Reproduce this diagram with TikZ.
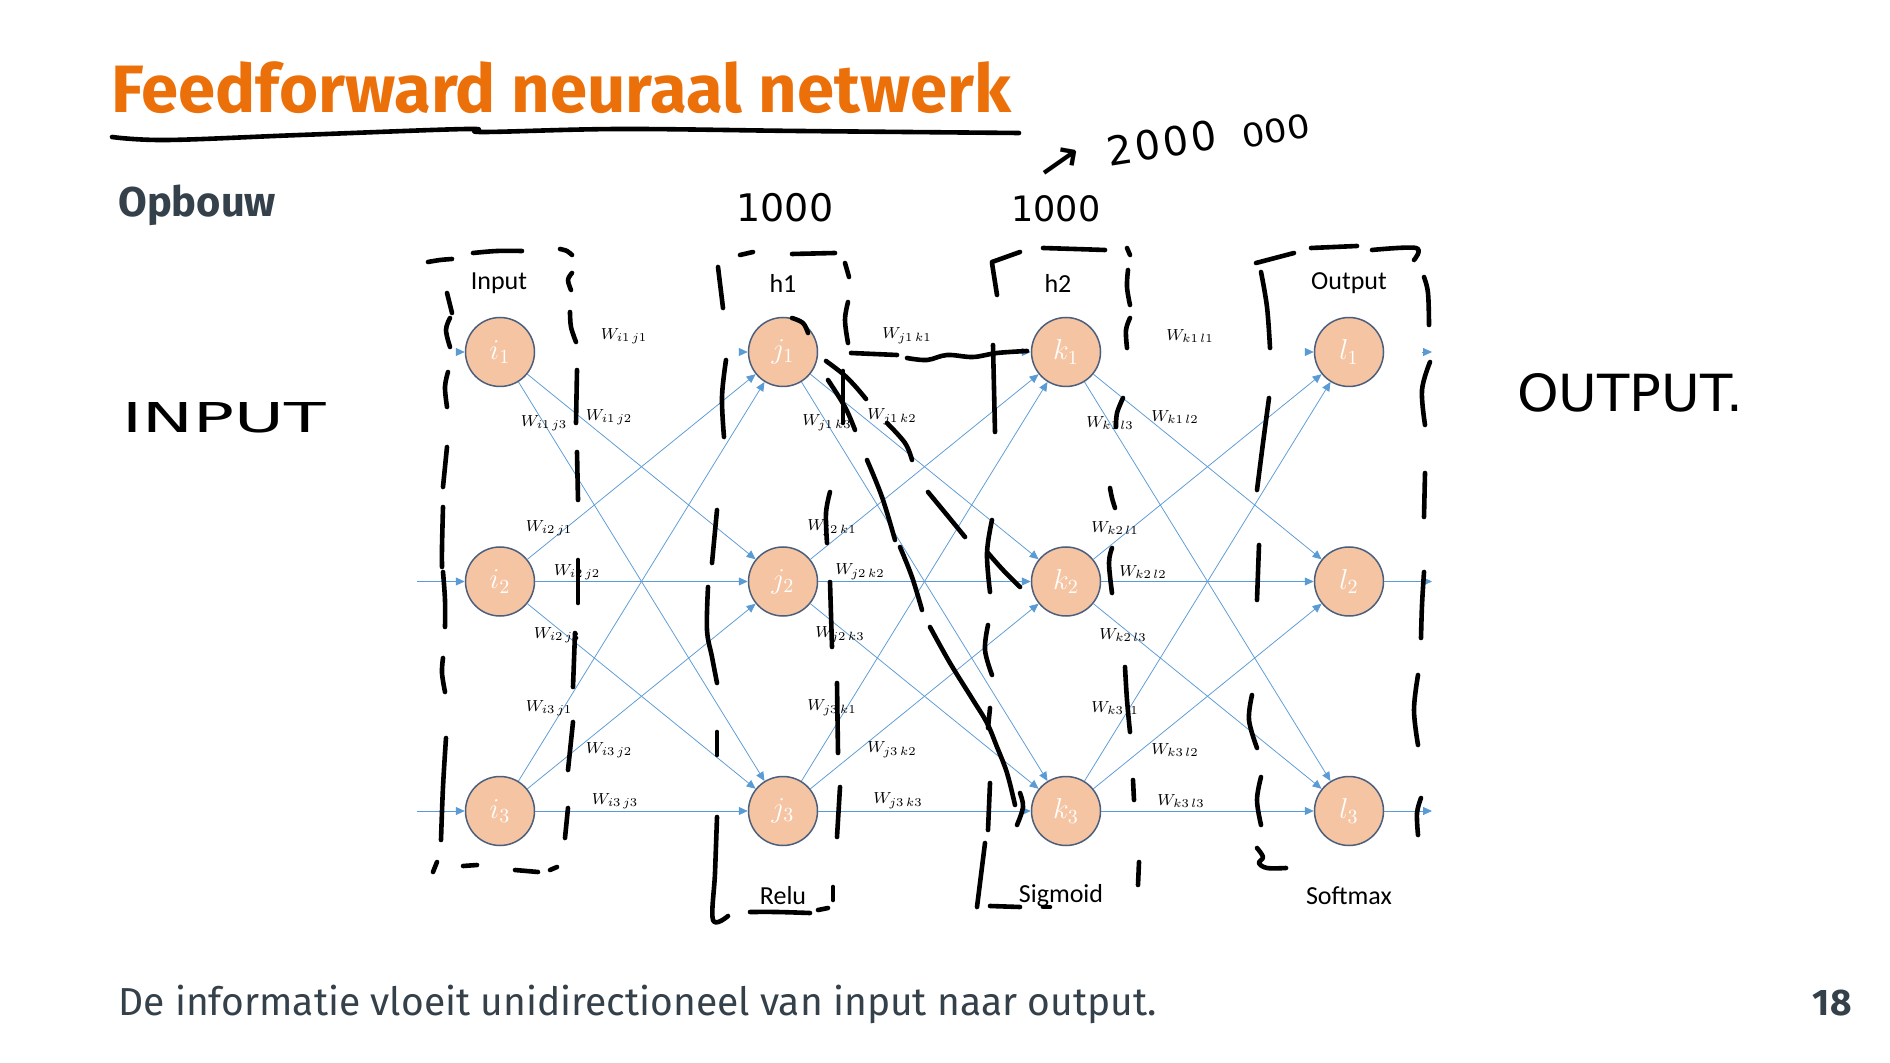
\documentclass[tikz,border=0pt]{standalone}
\usepackage{fontspec}
\setmainfont{Fira Sans}
\newfontfamily\calibri{Carlito}
\newfontfamily\hand{DejaVu Sans}
\usetikzlibrary{arrows.meta,calc}

\definecolor{kdgorange}{RGB}{236,112,10}
\definecolor{slate}{RGB}{52,64,74}
\definecolor{netblue}{RGB}{91,155,213}
\definecolor{nodefill}{RGB}{245,196,162}
\definecolor{nodeedge}{RGB}{75,95,125}

% one freehand pen stroke through a list of points
\newcommand\penstroke[1]{\draw[hw] plot[smooth, tension=0.6] coordinates {#1};}

\begin{document}
\begin{tikzpicture}[x=0.5pt,y=-0.5pt,
  neuron/.style={circle, draw=nodeedge, line width=0.75pt, fill=nodefill,
    minimum size=34.5pt, inner sep=0pt, text=white, font=\fontsize{14.5}{14.5}\selectfont},
  conn/.style={draw=netblue, line width=0.38pt, -{Triangle[length=4.5pt,width=4pt]}},
  headonly/.style={conn, shorten <=103pt},
  wlab/.style={inner sep=0pt, font=\fontsize{8}{9}\selectfont},
  layerlab/.style={inner sep=0pt, font=\calibri\fontsize{13}{13}\selectfont},
  hw/.style={line width=2.3pt, line cap=round, line join=round},
  hwtext/.style={inner sep=0pt, font=\hand}]

\fill[white] (0,0) rectangle (1890,1063);
\useasboundingbox (0,0) rectangle (1890,1063);

% slide texts
\node[anchor=base west, inner sep=0pt, text=kdgorange,
  font=\bfseries\fontsize{33.5}{40}\selectfont] (title) at (111,113) {Feedforward neuraal netwerk};
\node[anchor=base west, inner sep=0pt, text=slate,
  font=\bfseries\fontsize{20.8}{24}\selectfont] (sub) at (118,217) {Opbouw};
\node[anchor=base west, inner sep=0pt, text=slate,
  font=\fontsize{19.5}{24}\selectfont] (body) at (118,1015) {De informatie vloeit unidirectioneel van input naar output.};
\node[anchor=base east, inner sep=0pt, text=slate,
  font=\bfseries\fontsize{18.5}{24}\selectfont] (page) at (1852,1015) {18};

% layer captions
\node[layerlab] (cap-in)  at (499,283)  {Input};
\node[layerlab] (cap-h1)  at (783,283)  {h1};
\node[layerlab] (cap-h2)  at (1058,283) {h2};
\node[layerlab] (cap-out) at (1349,283) {Output};
\node[layerlab] (act-h1)  at (783,896)  {Relu};
\node[layerlab] (act-h2)  at (1061,896) {Sigmoid};
\node[layerlab] (act-out) at (1349,896) {Softmax};

% neurons
\foreach \lay/\x in {i/500, j/783, k/1066, l/1349}
  \foreach \r/\y in {1/352, 2/581.5, 3/811}
    \node[neuron] (\lay\r) at (\x,\y) {$\lay_{\r}$};

% weighted connections (the top row shows only its arrow tip)
\foreach \a/\b in {i/j, j/k, k/l}{
  \draw[headonly] (\a1) -- (\b1);
  \foreach \s/\t in {1/2, 1/3, 2/1, 2/2, 2/3, 3/1, 3/2, 3/3}
    \draw[conn] (\a\s) -- (\b\t);
}

% inputs and outputs
\coordinate (in1) at (456,352);
\coordinate (in2) at (417,581.5);
\coordinate (in3) at (417,811);
\coordinate (os1) at (1422,352);
\coordinate (out1) at (1432,352);
\coordinate (out2) at (1432,581.5);
\coordinate (out3) at (1432,811);
\draw[conn] (in1) -- (i1);
\draw[conn] (in2) -- (i2);
\draw[conn] (in3) -- (i3);
\draw[conn] (os1) -- (out1);
\draw[conn] (l2) -- (out2);
\draw[conn] (l3) -- (out3);

% weight labels
\foreach \a/\b/\c in {i/j/500, j/k/783, k/l/1066}
  \foreach \s/\t/\dx/\y in {1/1/124/336, 1/2/109/417, 1/3/44/423,
                            2/1/49/528, 2/2/77/572, 2/3/57/635,
                            3/1/49/708, 3/2/109/750, 3/3/115/801}
    \node[wlab] (w\a\s\b\t) at (\c+\dx,\y) {$W_{\a\s\,\b\t}$};

% pen annotations: underline of the title
\penstroke{(112,137) (167,140) (300,135) (467,129) (483,132) (620,129) (800,131) (1019,133)}

% pen annotations: dashed frame around the input layer
\penstroke{(428,262) (440,260) (452,259)}
\penstroke{(473,253) (497,251) (522,251)}
\penstroke{(560,249) (567,251) (572,255)}
\penstroke{(572,273) (568,280) (571,290)}
\penstroke{(570,312) (571,327) (576,342)}
\penstroke{(447,293) (452,313)}
\penstroke{(450,318) (446,330) (450,347)}
\penstroke{(448,372) (445,387) (447,407)}
\penstroke{(447,447) (443,487)}
\penstroke{(443,507) (442,547) (442,567)}
\penstroke{(443,572) (445,600) (445,627)}
\penstroke{(577,370) (576,423)}
\penstroke{(577,452) (578,500)}
\penstroke{(578,560) (578,603)}
\penstroke{(443,658) (442,673) (445,692)}
\penstroke{(446,738) (443,787) (441,840)}
\penstroke{(433,872) (437,862)}
\penstroke{(463,866) (477,865)}
\penstroke{(515,870) (538,872)}
\penstroke{(550,870) (557,867)}
\penstroke{(575,633) (573,687)}
\penstroke{(573,722) (568,770)}
\penstroke{(568,808) (565,838)}

% pen annotations: frame around h1
\penstroke{(740,255) (753,252)}
\penstroke{(792,254) (835,253)}
\penstroke{(845,263) (849,277)}
\penstroke{(718,267) (723,308)}
\penstroke{(848,302) (845,320) (848,343)}
\penstroke{(726,360) (722,397) (724,437)}
\penstroke{(717,510) (712,563)}
\penstroke{(708,587) (707,630) (712,657) (717,683)}
\penstroke{(717,732) (717,755)}
\penstroke{(717,817) (715,873) (713,920) (728,916)}
\penstroke{(750,912) (777,912) (810,913)}
\penstroke{(818,910) (828,908)}
\penstroke{(833,887) (833,900)}
\penstroke{(830,492) (826,513) (827,543)}
\penstroke{(830,582) (832,647)}
\penstroke{(837,683) (838,753)}
\penstroke{(840,787) (837,837)}
\penstroke{(792,318) (803,323) (808,333)}

% pen annotations: strokes between h1 and h2
\penstroke{(851,353) (897,355)}
\penstroke{(907,358) (927,360) (947,355) (973,357) (997,353) (1027,351)}
\penstroke{(993,345) (995,432)}
\penstroke{(826,361) (843,374) (855,386) (866,399)}
\penstroke{(843,371) (843,423)}
\penstroke{(828,380) (845,407) (855,430)}
\penstroke{(887,423) (905,443) (912,460)}
\penstroke{(867,460) (882,497) (895,540)}
\penstroke{(900,547) (912,577) (922,610)}
\penstroke{(930,627) (950,663) (973,700) (987,723) (997,747) (1007,773) (1015,805)}
\penstroke{(1020,793) (1023,807) (1017,825)}
\penstroke{(928,492) (947,515) (965,537)}
\penstroke{(992,520) (987,553) (990,592)}
\penstroke{(988,553) (1003,570) (1020,587)}
\penstroke{(988,625) (985,650) (992,675)}
\penstroke{(990,708) (988,728)}
\penstroke{(990,783) (988,830)}
\penstroke{(985,843) (977,907)}
\penstroke{(990,906) (1020,907)}
\penstroke{(1043,907) (1050,907)}

% pen annotations: frame around h2
\penstroke{(992,262) (1020,252)}
\penstroke{(992,263) (997,295)}
\penstroke{(1043,248) (1075,249) (1105,250)}
\penstroke{(1127,248) (1130,255)}
\penstroke{(1128,270) (1127,287) (1130,305)}
\penstroke{(1130,318) (1126,330) (1127,348)}
\penstroke{(1123,398) (1117,413) (1116,427)}
\penstroke{(1110,488) (1112,498) (1115,508)}
\penstroke{(1112,548) (1109,563) (1112,593)}
\penstroke{(1125,667) (1127,700) (1130,732)}
\penstroke{(1133,780) (1134,800)}
\penstroke{(1139,862) (1138,885)}

% pen annotations: frame around the output layer
\penstroke{(1256,263) (1294,253)}
\penstroke{(1311,248) (1357,246)}
\penstroke{(1372,250) (1416,248) (1414,260)}
\penstroke{(1261,272) (1267,307) (1270,348)}
\penstroke{(1424,277) (1428,293) (1429,325)}
\penstroke{(1430,362) (1422,390) (1425,425)}
\penstroke{(1425,473) (1424,517)}
\penstroke{(1424,572) (1422,605) (1421,638)}
\penstroke{(1269,398) (1263,443) (1257,490)}
\penstroke{(1259,545) (1257,600)}
\penstroke{(1418,675) (1414,710) (1418,745)}
\penstroke{(1421,798) (1417,813) (1418,835)}
\penstroke{(1252,695) (1249,720) (1257,748)}
\penstroke{(1261,777) (1257,800) (1261,825)}
\penstroke{(1257,848) (1263,857) (1259,863) (1267,868) (1286,868)}

% pen annotations: words and numbers
\node[hwtext] (hw-input)  at (224,418)  {\resizebox{101.5pt}{15pt}{INPUT}};
\node[hwtext] (hw-output) at (1630,393) {\resizebox{113pt}{19pt}{OUTPUT.}};
\node[hwtext, font=\hand\fontsize{19}{19}\selectfont] (hw-n1) at (785,208) {1000};
\node[hwtext, font=\hand\fontsize{17.5}{18}\selectfont] (hw-n2) at (1056,209) {1000};
\node[hwtext, rotate=35] (hw-arrow) at (1062,165) {\resizebox{22pt}{!}{→}};
\node[hwtext, rotate=9, font=\hand\fontsize{20}{20}\selectfont] (hw-big) at (1162,143) {2\kern1.5pt0\kern1.5pt0\kern1.5pt0};
\node[hwtext, rotate=10] (hw-big2) at (1276,131) {\resizebox{34pt}{12pt}{000}};

\end{tikzpicture}
\end{document}
